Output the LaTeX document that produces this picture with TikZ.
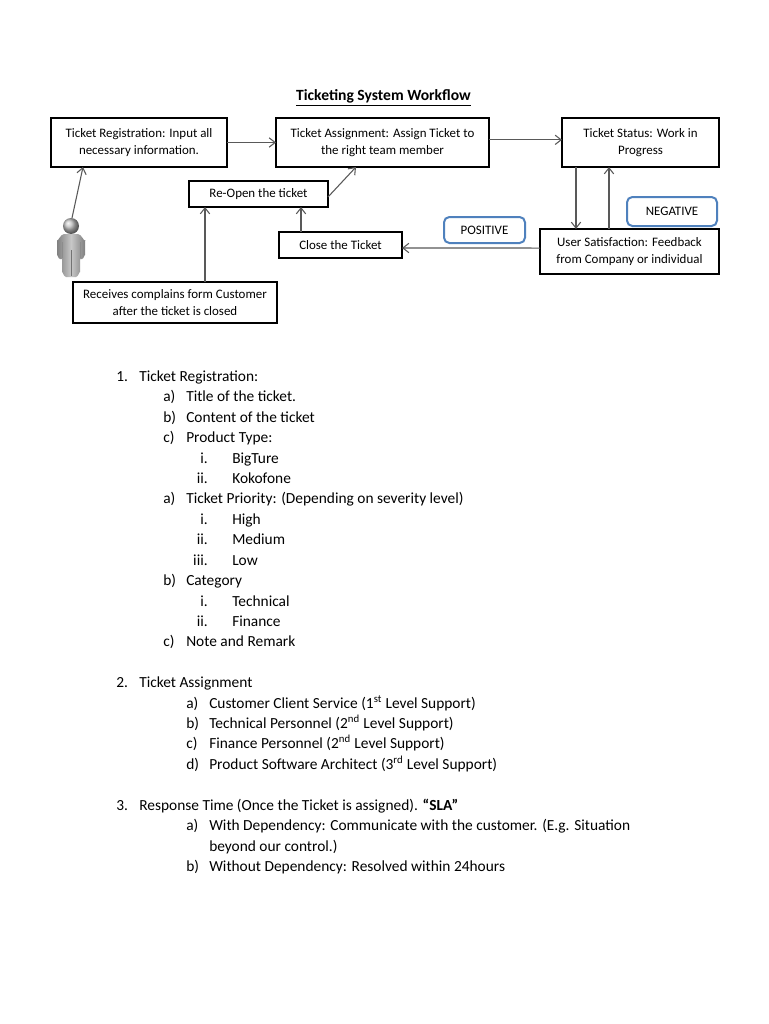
\documentclass[tikz,border=0pt]{standalone}
\usepackage{fontspec}
\setmainfont{Carlito}
\usetikzlibrary{arrows.meta, positioning}
\definecolor{boxblue}{HTML}{4F81BD}
\tikzset{
    flowbox/.style={draw=black, line width=1.5pt, fill=white, align=center, inner sep=0pt, outer sep=0pt, font=\fontsize{9.7}{13}\selectfont},
    tagbox/.style={draw=boxblue, line width=1.5pt, rounded corners=4pt, fill=white, inner sep=0pt, outer sep=0pt, font=\fontsize{9.7}{13}\selectfont},
    flowline/.style={draw=black!65, line width=0.8pt, -{Straight Barb[length=4.5pt,width=7pt]}},
    listtext/.style={anchor=base west, inner sep=0pt, font=\fontsize{11.55}{12}\selectfont},
    listnum/.style={anchor=base east, inner sep=0pt, font=\fontsize{11.55}{12}\selectfont}
}
\begin{document}
\begin{tikzpicture}[x=0.75pt,y=-0.75pt]
\useasboundingbox[fill=white] (0,0) rectangle (768,1024);

\node[inner sep=0pt, font=\fontsize{11.7}{12}\selectfont\bfseries] (title) at (383.5,98) {\underline{Ticketing System Workflow}};

% Workflow boxes
\node[flowbox, minimum width=132pt, minimum height=36.75pt] (reg) at (139,142.5) {Ticket Registration: Input all\\necessary information.};
\node[flowbox, minimum width=159.75pt, minimum height=36.75pt] (assign) at (382.5,142.5) {Ticket Assignment: Assign Ticket to\\the right team member};
\node[flowbox, minimum width=117.75pt, minimum height=36.75pt] (status) at (640.5,142.5) {Ticket Status: Work in\\Progress};
\node[flowbox, minimum width=104.25pt, minimum height=19.5pt] (reopen) at (258.5,194) {Re-Open the ticket};
\node[flowbox, minimum width=92.25pt, minimum height=19.5pt] (close) at (340.5,245) {Close the Ticket};
\node[flowbox, line width=1.2pt, minimum width=153pt, minimum height=30.75pt] (complain) at (175,302.5) {Receives complains form Customer\\after the ticket is closed};
\node[flowbox, minimum width=134.25pt, minimum height=33.75pt] (user) at (629.5,251.5) {User Satisfaction: Feedback\\from Company or individual};
\node[tagbox, minimum width=60.75pt, minimum height=19.5pt] (positive) at (484.5,230) {POSITIVE};
\node[tagbox, minimum width=67.5pt, minimum height=21.75pt] (negative) at (672,211.5) {NEGATIVE};

% Person
\path[left color=black!50, right color=black!50, middle color=black!22]
    (57,240) to[out=-90,in=180] (64,234) -- (78,234) to[out=0,in=-90] (85,240) -- (85,255)
    to[out=90,in=0] (82,259) -- (80,259) -- (80,272) to[out=90,in=0] (76,277) -- (66,277)
    to[out=180,in=90] (62,272) -- (62,259) -- (60,259) to[out=180,in=90] (57,255) -- cycle;
\draw[black!55, line width=0.6pt] (71,250) -- (71,276);
\draw[black!45, line width=0.5pt] (62,242) -- (62,258) (80,242) -- (80,258);
\shade[ball color=black!25] (71,226) circle (8);
\coordinate (person) at (72,218);

% Connectors
\draw[flowline] (person) -- ([xshift=24pt]reg.south west);
\draw[flowline] (reg) -- (assign);
\draw[flowline] ([yshift=2pt]assign.east) -- ([yshift=2pt]status.west);
\draw[flowline] ([xshift=10.5pt]status.south west) -- ([xshift=27pt]user.north west);
\draw[flowline] ([xshift=51.75pt]user.north west) -- ([xshift=35.25pt]status.south west);
\draw[flowline] ([yshift=2.6pt]user.west) -- ([yshift=-2.25pt]close.east);
\draw[flowline] ([xshift=16.5pt]close.north west) -- ([xshift=84pt]reopen.south west);
\draw[flowline] ([xshift=99pt]complain.north west) -- ([xshift=12pt]reopen.south west);
\draw[flowline] ([yshift=-2.25pt]reopen.east) -- ([xshift=60pt]assign.south west);

% Numbered headings
\foreach \y/\lab/\txt [count=\n] in {381/1./{Ticket Registration:},687/2./{Ticket Assignment},810/3./{Response Time (Once the Ticket is assigned). \textbf{“SLA”}}} {
    \node[listtext] (numlab\n) at (116,\y) {\lab};
    \node[listtext] (numtxt\n) at (139,\y) {\txt};
}

% Letter items, first list
\foreach \y/\lab/\txt [count=\n] in {401/a)/{Title of the ticket.},422/b)/{Content of the ticket},442/c)/{Product Type:},503/a)/{Ticket Priority: (Depending on severity level)},585/b)/{Category},646/c)/{Note and Remark}} {
    \node[listtext] (letlab\n) at (163,\y) {\lab};
    \node[listtext] (lettxt\n) at (186,\y) {\txt};
}

% Roman items
\foreach \y/\lab/\txt [count=\n] in {463/i./BigTure,483/ii./Kokofone,524/i./High,544/ii./Medium,565/iii./Low,606/i./Technical,626/ii./Finance} {
    \node[listnum] (romlab\n) at (208,\y) {\lab};
    \node[listtext] (romtxt\n) at (232,\y) {\txt};
}

% Letter items, second and third list
\foreach \y/\lab/\txt [count=\n] in {708/a)/{Customer Client Service (1\textsuperscript{st} Level Support)},728/b)/{Technical Personnel (2\textsuperscript{nd} Level Support)},748/c)/{Finance Personnel (2\textsuperscript{nd} Level Support)},769/d)/{Product Software Architect (3\textsuperscript{rd} Level Support)},830/a)/{With Dependency: Communicate with the customer. (E.g. Situation},871/b)/{Without Dependency: Resolved within 24hours}} {
    \node[listtext] (sublab\n) at (186,\y) {\lab};
    \node[listtext] (subtxt\n) at (209,\y) {\txt};
}
\node[listtext] (subcont) at (209,851) {beyond our control.)};
\end{tikzpicture}
\end{document}
